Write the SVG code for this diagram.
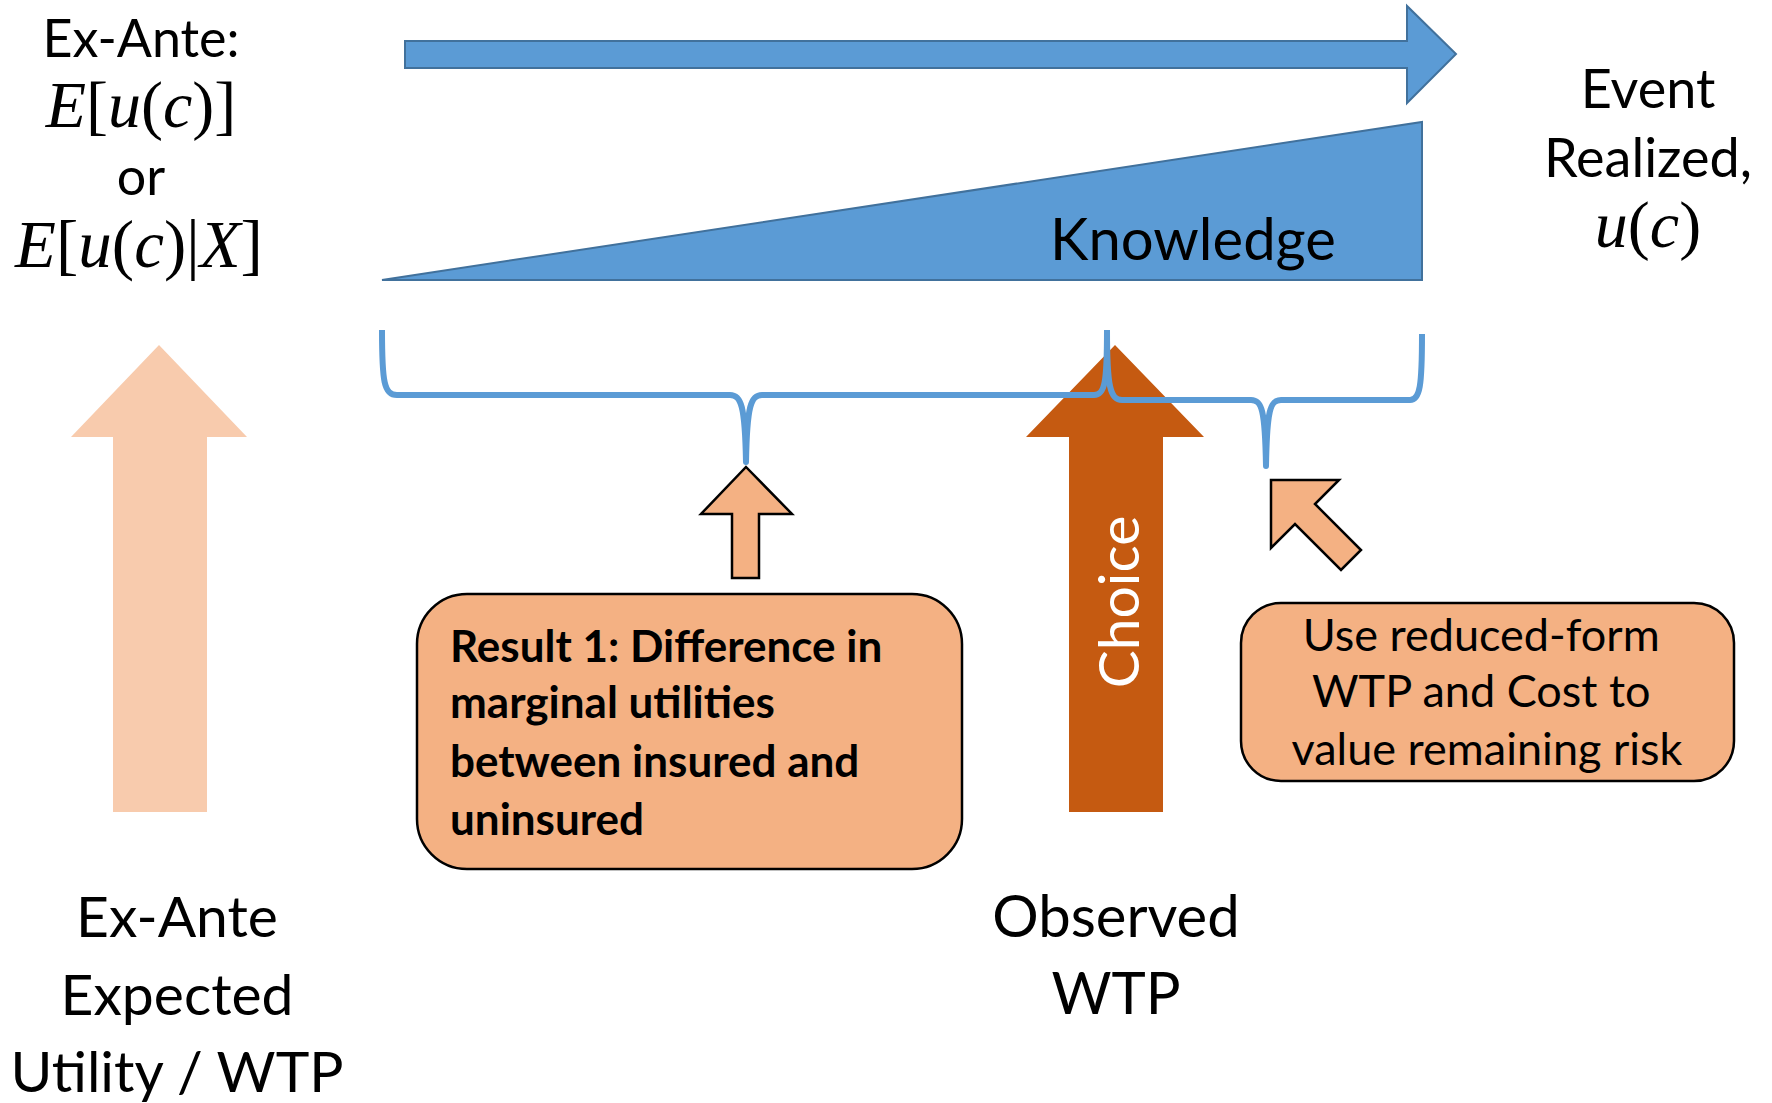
<svg xmlns="http://www.w3.org/2000/svg" width="1772" height="1103" viewBox="0 0 1772 1103">
  <style>
    .lbl { font-family: Lato, "Open Sans", "Liberation Sans", sans-serif; fill: #000; }
    .math { font-family: "Liberation Serif", "DejaVu Serif", serif; fill: #000; }
    .it { font-style: italic; }
    .blue { fill: #5B9BD5; stroke: #41719C; stroke-width: 2; }
    .brace { fill: none; stroke: #5B9BD5; stroke-width: 6; stroke-linejoin: round; }
    .peach { fill: #F4B183; stroke: #000; stroke-width: 2.5; }
    .box { fill: #F4B183; stroke: #000; stroke-width: 2.5; }
  </style>
  <rect width="1772" height="1103" fill="#fff"/>

  <!-- time axis -->
  <g id="time-arrow">
    <polygon class="blue" points="405,41 1407,41 1407,6 1456,54 1407,103 1407,68 405,68"/>
  </g>

  <!-- growing knowledge wedge -->
  <g id="knowledge">
    <polygon class="blue" points="382,280 1422,122 1422,280"/>
    <text class="lbl" x="1193" y="260" font-size="58" text-anchor="middle">Knowledge</text>
  </g>

  <!-- ex-ante label (top left) -->
  <g id="ex-ante-top">
    <text class="lbl" x="141" y="57" font-size="52" text-anchor="middle">Ex-Ante:</text>
    <text class="math" x="141" y="127" font-size="66" text-anchor="middle"><tspan class="it">E</tspan>[<tspan class="it">u</tspan>(<tspan class="it">c</tspan>)]</text>
    <text class="lbl" x="141" y="195" font-size="52" text-anchor="middle">or</text>
    <text class="math" x="139" y="267" font-size="67" text-anchor="middle"><tspan class="it">E</tspan>[<tspan class="it">u</tspan>(<tspan class="it">c</tspan>)|<tspan class="it">X</tspan>]</text>
  </g>

  <!-- realized event label (top right) -->
  <g id="event-realized">
    <text class="lbl" x="1648" y="108" font-size="54" text-anchor="middle">Event</text>
    <text class="lbl" x="1648" y="177" font-size="54" text-anchor="middle">Realized,</text>
    <text class="math" x="1648" y="247" font-size="66" text-anchor="middle"><tspan class="it">u</tspan>(<tspan class="it">c</tspan>)</text>
  </g>

  <!-- ex-ante expected utility arrow -->
  <g id="ex-ante-arrow">
    <polygon fill="#F8CBAD" points="159,345 247,437 207,437 207,812 113,812 113,437 71,437"/>
    <text class="lbl" x="177" y="937" font-size="57" text-anchor="middle">Ex-Ante</text>
    <text class="lbl" x="177" y="1015" font-size="57" text-anchor="middle">Expected</text>
    <text class="lbl" x="177" y="1092" font-size="57" text-anchor="middle">Utility / WTP</text>
  </g>

  <!-- choice arrow -->
  <g id="choice-arrow">
    <polygon fill="#C55A11" points="1115,345 1204,437 1163,437 1163,812 1069,812 1069,437 1026,437"/>
    <text class="lbl" transform="translate(1139,602) rotate(-90)" font-size="57" style="fill:#fff" text-anchor="middle">Choice</text>
  </g>

  <!-- observed WTP label -->
  <g id="observed-wtp">
    <text class="lbl" x="1116" y="937" font-size="58" text-anchor="middle">Observed</text>
    <text class="lbl" x="1116" y="1014" font-size="58" text-anchor="middle">WTP</text>
  </g>

  <!-- result 1 box -->
  <g id="result-1">
    <rect class="box" x="417" y="594" width="545" height="275" rx="50" ry="50"/>
    <text class="lbl" font-size="44" font-weight="bold">
      <tspan x="450" y="662">Result 1: Difference in</tspan>
      <tspan x="450" y="718">marginal utilities</tspan>
      <tspan x="450" y="777">between insured and</tspan>
      <tspan x="450" y="835">uninsured</tspan>
    </text>
  </g>

  <!-- reduced-form box -->
  <g id="reduced-form">
    <rect class="box" x="1241" y="603" width="493" height="178" rx="40" ry="40"/>
    <text class="lbl" font-size="45" text-anchor="middle">
      <tspan x="1487" y="651">Use reduced-form</tspan>
      <tspan x="1487" y="707">WTP and Cost to</tspan>
      <tspan x="1487" y="765">value remaining risk</tspan>
    </text>
  </g>

  <!-- braces and pointer arrows -->
  <g id="connectors">
    <path class="brace" d="M382,330 C382,382 384,395 397,395 L730,395 C741,395 745,405 746,462 C747,405 751,395 762,395 L1094,395 C1105,395 1107,382 1107,330"/>
    <path class="brace" d="M1107,330 C1107,386 1110,400 1122,400 L1251,400 C1262,400 1265,410 1266,466 C1267,410 1270,400 1281,400 L1410,400 C1420,400 1422,386 1422,334"/>
    <polygon class="peach" points="746,467 792,514 759,514 759,578 732,578 732,514 701,514"/>
    <polygon class="peach" points="1271,480 1339,480 1315,504 1361,550 1341,570 1295,524 1271,548"/>
  </g>
</svg>
